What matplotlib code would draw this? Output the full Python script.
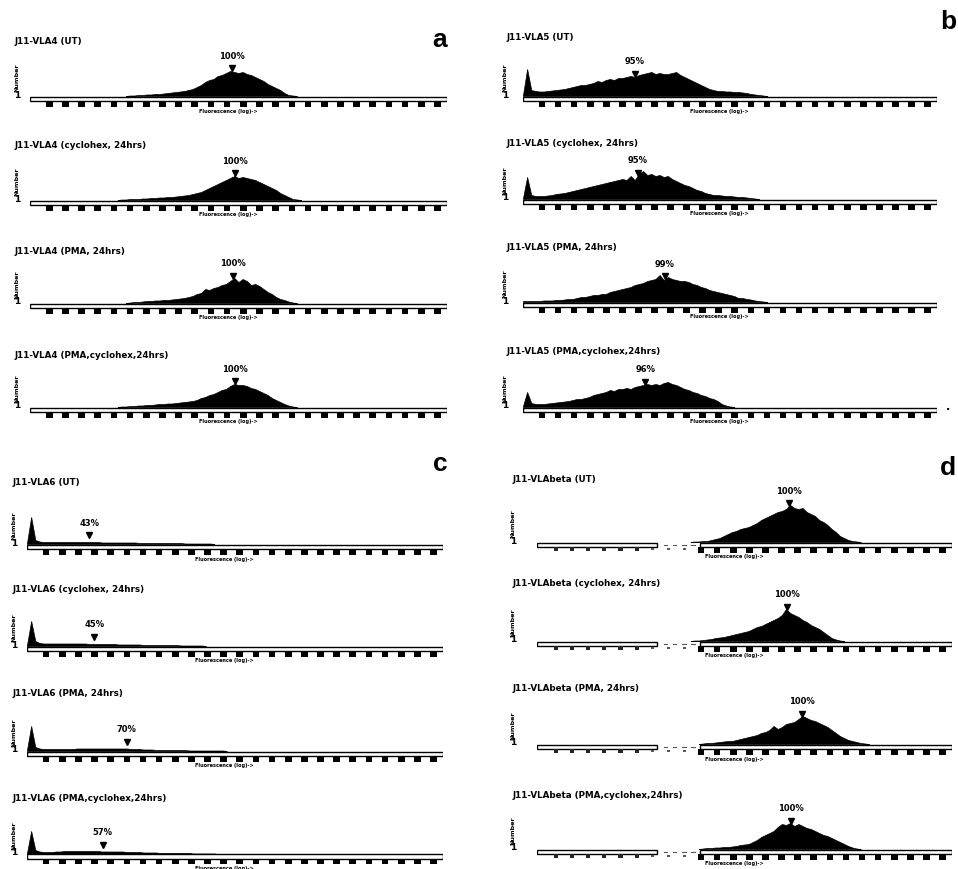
import numpy as np
import matplotlib
matplotlib.use("Agg")
import matplotlib.pyplot as plt
from matplotlib.patches import Rectangle

W, H = 958, 870

# ------------------------------------------------------------------ data
titles_a = ["J11-VLA4 (UT)", "J11-VLA4 (cyclohex, 24hrs)",
            "J11-VLA4 (PMA, 24hrs)", "J11-VLA4 (PMA,cyclohex,24hrs)"]
titles_b = ["J11-VLA5 (UT)", "J11-VLA5 (cyclohex, 24hrs)",
            "J11-VLA5 (PMA, 24hrs)", "J11-VLA5 (PMA,cyclohex,24hrs)"]
titles_c = ["J11-VLA6 (UT)", "J11-VLA6 (cyclohex, 24hrs)",
            "J11-VLA6 (PMA, 24hrs)", "J11-VLA6 (PMA,cyclohex,24hrs)"]
titles_d = ["J11-VLAbeta (UT)", "J11-VLAbeta (cyclohex, 24hrs)",
            "J11-VLAbeta (PMA, 24hrs)", "J11-VLAbeta (PMA,cyclohex,24hrs)"]

pct_a = ["100%", "100%", "100%", "100%"]
pct_b = ["95%", "95%", "99%", "96%"]
pct_c = ["43%", "45%", "70%", "57%"]
pct_d = ["100%", "100%", "100%", "100%"]

# gate (marker) channel, on a 0-100 channel scale of the axis bar
gate_a = [48.4, 49.2, 48.7, 49.2]
gate_b = [27.0, 27.7, 34.3, 29.5]
gate_c = [15.0, 16.2, 24.0, 18.2]
gate_d = [60.7, 60.2, 63.8, 61.2]

# first channel of each histogram list
start_a = [24, 22, 24, 22]
start_b = [0, 0, 0, 0]
start_c = [0, 0, 0, 0]
start_d = [38, 38, 40, 40]

# cell counts (relative height) per channel
hist_a1 = [0.5, 0.5, 1, 1, 1.5, 1.5, 2, 2, 2.5, 3,
           3.5, 4, 4.5, 5, 6, 7, 9, 11, 14, 16,
           17, 20, 21, 23, 25, 24, 23, 24, 22, 21,
           19, 17, 15, 12, 10, 8, 6, 3, 1, 0.5]
hist_a2 = [0.5, 0.5, 1, 1, 1, 1.5, 1.5, 2, 2, 2.5,
           2.5, 3, 3, 3.5, 4, 4.5, 5, 6, 7, 8,
           10, 12, 14, 16, 18, 20, 22, 24, 22, 23,
           22, 21, 20, 18, 16, 14, 12, 10, 7, 5,
           3, 1, 0.5]
hist_a3 = [0.5, 1, 1, 1.5, 2, 2, 2.5, 2.5, 3, 3,
           3.5, 4, 4.5, 5, 6, 7, 9, 10, 14, 13,
           15, 16, 18, 19, 22, 25, 21, 24, 22, 18,
           19, 17, 14, 11, 9, 6, 4, 3, 1.5, 0.5]
hist_a4 = [0.5, 0.5, 1, 1, 1.5, 1.5, 2, 2, 2.5, 3,
           3, 3.5, 3.5, 4, 4.5, 5, 5.5, 6, 7, 9,
           10, 12, 13, 15, 17, 18, 21, 23, 22, 22,
           21, 19, 18, 16, 14, 12, 9, 7, 5, 3,
           1.5, 0.5]

hist_b1 = [1, 27, 6, 5, 4.5, 4.5, 5, 5.5, 6, 6.5,
           7, 8, 9, 10, 11, 11, 12, 13, 15, 14,
           16, 17, 16, 18, 18, 19, 20, 19, 21, 22,
           23, 24, 22, 23, 22, 22, 23, 24, 21, 19,
           17, 15, 13, 11, 9, 7, 6, 5, 5, 4.5,
           4.5, 4, 4, 3.5, 3, 2, 1.5, 1, 0.5]
hist_b2 = [1, 22, 4, 3, 3, 3, 3.5, 4, 5, 5.5,
           6, 7, 8, 9, 10, 11, 12, 13, 14, 15,
           16, 17, 18, 19, 20, 19, 23, 19, 25, 28,
           24, 25, 23, 24, 22, 23, 20, 18, 16, 14,
           13, 11, 9, 8, 6, 5, 4, 4, 3.5, 3,
           3, 2.5, 2, 2, 1.5, 1, 0.5]
hist_b3 = [1, 1, 1, 1, 1, 1.5, 1.5, 1.5, 2, 2,
           2.5, 3, 3, 4, 5, 5, 6, 7, 7, 8,
           8, 10, 11, 12, 13, 14, 15, 17, 18, 19,
           21, 22, 23, 27, 22, 25, 23, 22, 21, 21,
           20, 18, 17, 15, 14, 12, 11, 10, 9, 8,
           7, 6, 4, 4, 3, 2.5, 1.5, 1, 0.5]
hist_b4 = [1, 15, 4, 3, 3, 3, 3.5, 4, 4.5, 5,
           5.5, 6, 7, 8, 8, 9, 10, 12, 13, 14,
           15, 17, 16, 18, 18, 19, 18, 20, 21, 22,
           23, 22, 23, 22, 24, 25, 23, 22, 20, 18,
           17, 15, 14, 12, 11, 9, 8, 6, 3, 1.5, 0.5]

hist_c1 = [1, 27, 4, 2.5, 2, 2, 2, 2, 2, 2,
           2, 2, 2, 2, 2, 2, 2, 2, 1.5, 1.5,
           1.5, 1.5, 1.5, 1.5, 1.5, 1.5, 1.5, 1, 1, 1,
           1, 1, 1, 1, 1, 1, 1, 1, 0.5, 0.5,
           0.5, 0.5, 0.5, 0.5, 0.5]
hist_c2 = [1, 25, 5, 3, 2.5, 2.5, 2.5, 2.5, 2.5, 2.5,
           2.5, 2.5, 2.5, 2.5, 2.5, 2, 2, 2, 2, 2,
           2, 2, 1.5, 1.5, 1.5, 1.5, 1.5, 1.5, 1, 1,
           1, 1, 1, 1, 1, 1, 1, 0.5, 0.5, 0.5,
           0.5, 0.5, 0.5]
hist_c3 = [1, 25, 4, 2.5, 2, 2, 2, 2, 2, 2,
           2, 2, 2.5, 2.5, 2.5, 2.5, 2.5, 2.5, 2.5, 2.5,
           2.5, 2.5, 2.5, 2.5, 2.5, 2, 2, 2, 1.5, 1.5,
           1.5, 1, 1, 1, 1, 1, 1, 1, 1, 0.5,
           0.5, 0.5, 0.5, 0.5, 0.5, 0.5, 0.5, 0.5]
hist_c4 = [1, 23, 4, 2.5, 2, 2, 2, 2.5, 2.5, 3,
           3, 3, 3, 3, 3, 3, 3, 3, 2.5, 2.5,
           2.5, 2.5, 2.5, 2.5, 2, 2, 2, 2, 1.5, 1.5,
           1.5, 1.5, 1, 1, 1, 1, 1, 1, 1, 1,
           0.5, 0.5, 0.5, 0.5, 0.5, 0.5]

hist_d1 = [0.5, 0.5, 1, 1, 2, 3, 4, 6, 8, 10,
           11, 13, 14, 15, 17, 19, 22, 24, 26, 28,
           30, 31, 33, 37, 34, 33, 34, 30, 28, 26,
           22, 20, 17, 13, 10, 6, 4, 2, 1, 0.5]
hist_d2 = [0.5, 0.5, 1, 1.5, 2, 3, 3.5, 4, 5, 6,
           7, 8, 9, 10, 12, 14, 15, 17, 19, 21,
           23, 26, 32, 28, 26, 24, 21, 19, 16, 14,
           12, 9, 6, 3, 1.5, 0.5]
hist_d3 = [0.5, 1, 1, 1.5, 2, 2.5, 3, 3, 4, 5,
           6, 7, 8, 9, 11, 12, 14, 18, 15, 17,
           20, 21, 22, 25, 28, 26, 24, 23, 21, 19,
           17, 14, 11, 8, 6, 4, 3, 2, 1, 0.5]
hist_d4 = [0.5, 1, 1, 1.5, 1.5, 2, 2, 2.5, 3, 4,
           4.5, 5, 7, 9, 12, 14, 16, 18, 22, 25,
           24, 26, 23, 25, 23, 21, 20, 18, 16, 14,
           13, 11, 9, 7, 5, 3, 1.5, 0.5]

# ------------------------------------------------------------------ layout
panels = [
    dict(letter="a", lx=440, ly=40, left=30, right=447,
         bases=[97, 201, 304, 408], tys=[42, 146, 252, 356], tx=15, yx=17,
         titles=titles_a, pcts=pct_a, gates=gate_a, starts=start_a,
         hists=[hist_a1, hist_a2, hist_a3, hist_a4], split=False),
    dict(letter="b", lx=948, ly=22, left=523, right=937,
         bases=[97, 200, 303, 408], tys=[38, 143, 248, 352], tx=507, yx=505,
         titles=titles_b, pcts=pct_b, gates=gate_b, starts=start_b,
         hists=[hist_b1, hist_b2, hist_b3, hist_b4], split=False),
    dict(letter="c", lx=440, ly=464, left=27, right=443,
         bases=[545, 647, 752, 855], tys=[483, 590, 694, 799], tx=13, yx=14,
         titles=titles_c, pcts=pct_c, gates=gate_c, starts=start_c,
         hists=[hist_c1, hist_c2, hist_c3, hist_c4], split=False),
    dict(letter="d", lx=948, ly=468, left=537, right=952,
         bases=[543, 642, 745, 850], tys=[480, 584, 689, 795], tx=513, yx=513,
         titles=titles_d, pcts=pct_d, gates=gate_d, starts=start_d,
         hists=[hist_d1, hist_d2, hist_d3, hist_d4], split=True),
]

TICKS = 4.6 + 3.88 * np.arange(25)

fig = plt.figure(figsize=(W / 100, H / 100), dpi=100)
fig.patch.set_facecolor("white")


def fx(px):
    return px / W


def fy(py):
    return 1 - py / H


BELOW, ABOVE = 18, 50

for p in panels:
    fig.text(fx(p["lx"]), fy(p["ly"]), p["letter"], ha="center", va="center",
             fontsize=19, fontweight="bold", family="Liberation Sans")
    left, right = p["left"], p["right"]
    for i in range(4):
        base = p["bases"][i]
        ax = fig.add_axes([fx(left), fy(base + BELOW), (right - left) / W,
                           (BELOW + ABOVE) / H])
        ax.set_xlim(0, 100)
        ax.set_ylim(-BELOW, ABOVE)
        ax.axis("off")

        h = np.array(p["hists"][i], dtype=float)
        start = p["starts"][i]
        ch = np.arange(start, start + len(h), dtype=float)
        x = np.concatenate([[max(start - 1, 0)], ch, [ch[-1] + 1]])
        y = np.concatenate([[0], h, [0]])
        ax.fill_between(x, 0, y, color="black", lw=0.5, edgecolor="black")

        # axis bar
        if p["split"]:
            segs = [(0, 28.9), (39.3, 100)]
        else:
            segs = [(0, 100)]
        for a0, a1 in segs:
            ax.add_patch(Rectangle((a0, -5), a1 - a0, 4.5, facecolor="white",
                                   edgecolor="black", lw=1.0, zorder=3))
        if p["split"]:
            for xd in np.arange(30.5, 39, 2.2):
                ax.plot([xd, xd + 0.9], [-2.8, -2.8], color="0.35", lw=0.8)
        for k, t in enumerate(TICKS):
            if p["split"] and k < 6:
                ax.add_patch(Rectangle((t - 0.5, -8.5), 1.0, 3.5,
                                       facecolor="0.15", edgecolor="none",
                                       zorder=3))
            elif p["split"] and k < 9:
                ax.add_patch(Rectangle((t - 0.35, -8.0), 0.7, 2.5,
                                       facecolor="0.35", edgecolor="none",
                                       zorder=3))
            else:
                ax.add_patch(Rectangle((t - 0.8, -10.5), 1.6, 5.5,
                                       facecolor="black", edgecolor="none",
                                       zorder=3))
        ax.text(47.5, -14, "Fluorescence (log)->", ha="center", va="center",
                fontsize=3.6, fontweight="bold", color="black")

        # gate marker + percentage
        g = p["gates"][i]
        hy = np.interp(g, x, y)
        my = max(hy, 6) + 3
        ax.plot([g], [my], marker="v", ms=4.2, color="black",
                clip_on=False, zorder=4)
        ax.text(g, my + 13, p["pcts"][i], ha="center", va="center",
                fontsize=6.0, fontweight="bold", clip_on=False)

        # title
        fig.text(fx(p["tx"]), fy(p["tys"][i]), p["titles"][i], ha="left",
                 va="center", fontsize=6.3, fontweight="bold")
        # y label
        fig.text(fx(p["yx"]), fy(base - 19), "Number", rotation=90,
                 ha="center", va="center", fontsize=4.6, fontweight="bold")
        fig.text(fx(p["yx"]), fy(base - 2), "1", ha="center", va="center",
                 fontsize=6.5, fontweight="bold")

fig.text(fx(948), fy(407), ".", ha="center", va="center", fontsize=8,
         fontweight="bold")

fig.savefig("out.png", dpi=100, facecolor="white")
